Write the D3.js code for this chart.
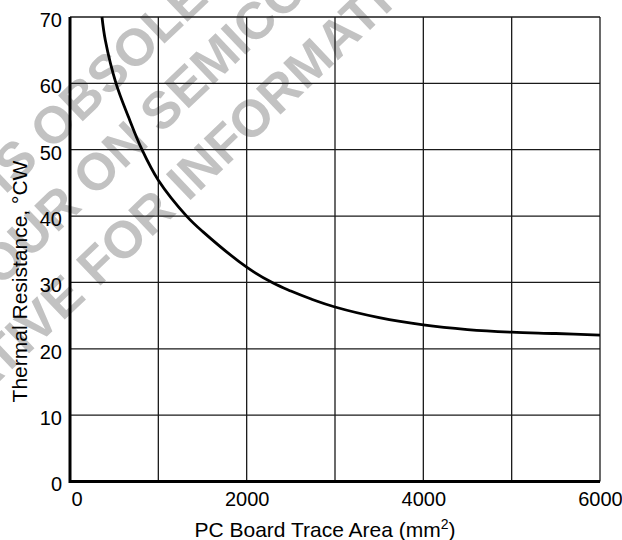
<!DOCTYPE html>
<html lang="en">
  <head>
    <meta charset="UTF-8" />
    <title>Thermal Resistance vs PC Board Trace Area</title>
    <style>
      html,
      body {
        margin: 0;
        padding: 0;
        background: #fff;
      }
      svg {
        display: block;
        font-family: "Liberation Sans", Arial, Helvetica, sans-serif;
      }
    </style>
  </head>
  <body>
    <svg id="chart-d3"></svg>

    <script src="https://cdnjs.cloudflare.com/ajax/libs/d3/7.8.5/d3.min.js"></script>
    <script>
      // values.
      const traceArea = [362, 400, 521, 660, 815, 1000, 1320, 1500, 2000, 2300, 2500, 2730, 3000, 3500, 4000, 4500, 5000, 5500, 6000];
      const thermalRes = [70, 66.5, 60, 55, 50, 45.4, 40, 37.7, 32.3, 29.9, 28.7, 27.5, 26.3, 24.7, 23.6, 22.9, 22.5, 22.3, 22.05];

      const xGrid = [0, 1000, 2000, 3000, 4000, 5000, 6000];
      const xTicks = [0, 2000, 4000, 6000];
      const yTicks = [0, 10, 20, 30, 40, 50, 60, 70];

      const xTitle = "PC Board Trace Area (mm";
      const yTitle = "Thermal Resistance, °CW";

      // watermark lines: [text before anchor, text after anchor].
      const watermark = [
        ["THIS DEVICE IS\u00a0", "OBSOLETE"],
        ["CONTACT YOUR ON\u00a0", "SEMICONDUCTOR"],
        ["REPRESENTATIVE FOR\u00a0", "INFORMATION"],
      ];
    </script>

    <script>
      function getChart({ width = 622, height = 540 }) {
        const chart = d3.select("#chart-d3").attr("width", width).attr("height", height);
        const margin = { left: 70, top: 17, right: 22, bottom: 58.5 };

        const x = d3
          .scaleLinear()
          .domain([0, 6000])
          .range([margin.left, width - margin.right]);
        const y = d3
          .scaleLinear()
          .domain([0, 70])
          .range([height - margin.bottom, margin.top]);

        // watermark sits under everything.
        const wmPos = [
          [51, 151.5],
          [161, 134.5],
          [188, 202.6],
        ];
        const wm = chart
          .append("g")
          .attr("fill", "#c2c2c2")
          .attr("font-weight", "bold")
          .attr("font-size", 52);
        watermark.forEach((parts, i) => {
          const g = wm
            .append("g")
            .attr("transform", `translate(${wmPos[i][0]},${wmPos[i][1]}) rotate(-43.5)`);
          g.append("text").attr("text-anchor", "end").text(parts[0]);
          g.append("text").attr("text-anchor", "start").text(parts[1]);
        });

        // grid.
        const grid = chart.append("g").attr("stroke", "#1a1a1a").attr("stroke-width", 1.3);
        grid
          .selectAll("line.v")
          .data(xGrid.slice(1))
          .join("line")
          .attr("class", "v")
          .attr("x1", (d) => x(d))
          .attr("x2", (d) => x(d))
          .attr("y1", y(70))
          .attr("y2", y(0));
        grid
          .selectAll("line.h")
          .data(yTicks.slice(1))
          .join("line")
          .attr("class", "h")
          .attr("x1", x(0))
          .attr("x2", x(6000))
          .attr("y1", (d) => y(d))
          .attr("y2", (d) => y(d));

        // heavy left / bottom axis lines.
        chart
          .append("path")
          .attr("fill", "none")
          .attr("stroke", "#000")
          .attr("stroke-width", 3)
          .attr("d", `M${x(0)},${y(70)}V${y(0)}H${x(6000)}`);

        // tick labels.
        const xAxis = chart
          .append("g")
          .attr("transform", `translate(0,${y(0)})`)
          .call(d3.axisBottom(x).tickValues(xTicks).tickSize(0).tickPadding(10).tickFormat(d3.format("d")));
        const yAxis = chart
          .append("g")
          .attr("transform", `translate(${x(0)},0)`)
          .call(d3.axisLeft(y).tickValues(yTicks).tickSize(0).tickPadding(8));

        [xAxis, yAxis].forEach((a) => {
          a.select(".domain").remove();
          a.selectAll("text").attr("font-size", 20).attr("fill", "#000").attr("font-family", null);
        });
        yAxis.selectAll("text").attr("dy", "0.47em");
        // first x label sits just right of the axis.
        xAxis
          .selectAll("text")
          .filter((d) => d === 0)
          .attr("text-anchor", "start")
          .attr("x", 1);

        // curve.
        const line = d3
          .line()
          .x((d, i) => x(traceArea[i]))
          .y((d) => y(d))
          .curve(d3.curveCatmullRom.alpha(0.5));
        chart
          .append("path")
          .attr("fill", "none")
          .attr("stroke", "#000")
          .attr("stroke-width", 2.8)
          .attr("d", line(thermalRes));

        // titles.
        const xt = chart
          .append("text")
          .attr("x", 325)
          .attr("y", 537)
          .attr("text-anchor", "middle")
          .attr("font-size", 21)
          .text(xTitle);
        xt.append("tspan").attr("font-size", 14).attr("dy", -8).text("2");
        xt.append("tspan").attr("dy", 8).text(")");

        chart
          .append("text")
          .attr("transform", "translate(27,281.5) rotate(-90)")
          .attr("text-anchor", "middle")
          .attr("font-size", 21)
          .text(yTitle);
      }

      getChart({});
    </script>
  </body>
</html>
